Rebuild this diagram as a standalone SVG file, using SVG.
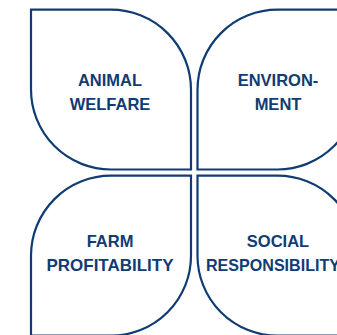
<svg xmlns="http://www.w3.org/2000/svg" width="337" height="335" viewBox="0 0 337 335">
<style>
.leaf{fill:#fff;stroke:#103c74;stroke-width:2.2}
.t{font-family:"Liberation Sans",Arial,sans-serif;font-weight:bold;font-size:16.5px;fill:#103c74;text-anchor:middle}
</style>
<rect width="337" height="335" fill="#fff"/>
<g id="animal-welfare">
<path class="leaf" d="M31,9.7 H111 A80,80 0 0 1 191,89.7 V169.5 H111 A80,80 0 0 1 31,89.5 Z"/>
<text class="t" x="110" y="85.5">ANIMAL</text>
<text class="t" x="110" y="110">WELFARE</text>
</g>
<g id="environment">
<path class="leaf" d="M197.5,89.7 A80,80 0 0 1 277.5,9.7 H357.5 V89.5 A80,80 0 0 1 277.5,169.5 H197.5 Z"/>
<text class="t" x="278" y="85.5">ENVIRON-</text>
<text class="t" x="278" y="110">MENT</text>
</g>
<g id="farm-profitability">
<path class="leaf" d="M31,255.7 A80,80 0 0 1 111,175.7 H191 V255.7 A80,80 0 0 1 111,335.7 H31 Z"/>
<text class="t" x="110" y="246.5">FARM</text>
<text class="t" x="110" y="270.5" textLength="127" lengthAdjust="spacingAndGlyphs">PROFITABILITY</text>
</g>
<g id="social-responsibility">
<path class="leaf" d="M197.5,175.7 H277.5 A80,80 0 0 1 357.5,255.7 V335.7 H277.5 A80,80 0 0 1 197.5,255.7 Z"/>
<text class="t" x="278" y="246.5">SOCIAL</text>
<text class="t" x="273" y="270.5" textLength="134" lengthAdjust="spacingAndGlyphs">RESPONSIBILITY</text>
</g>
<g id="connectors"></g>
</svg>
